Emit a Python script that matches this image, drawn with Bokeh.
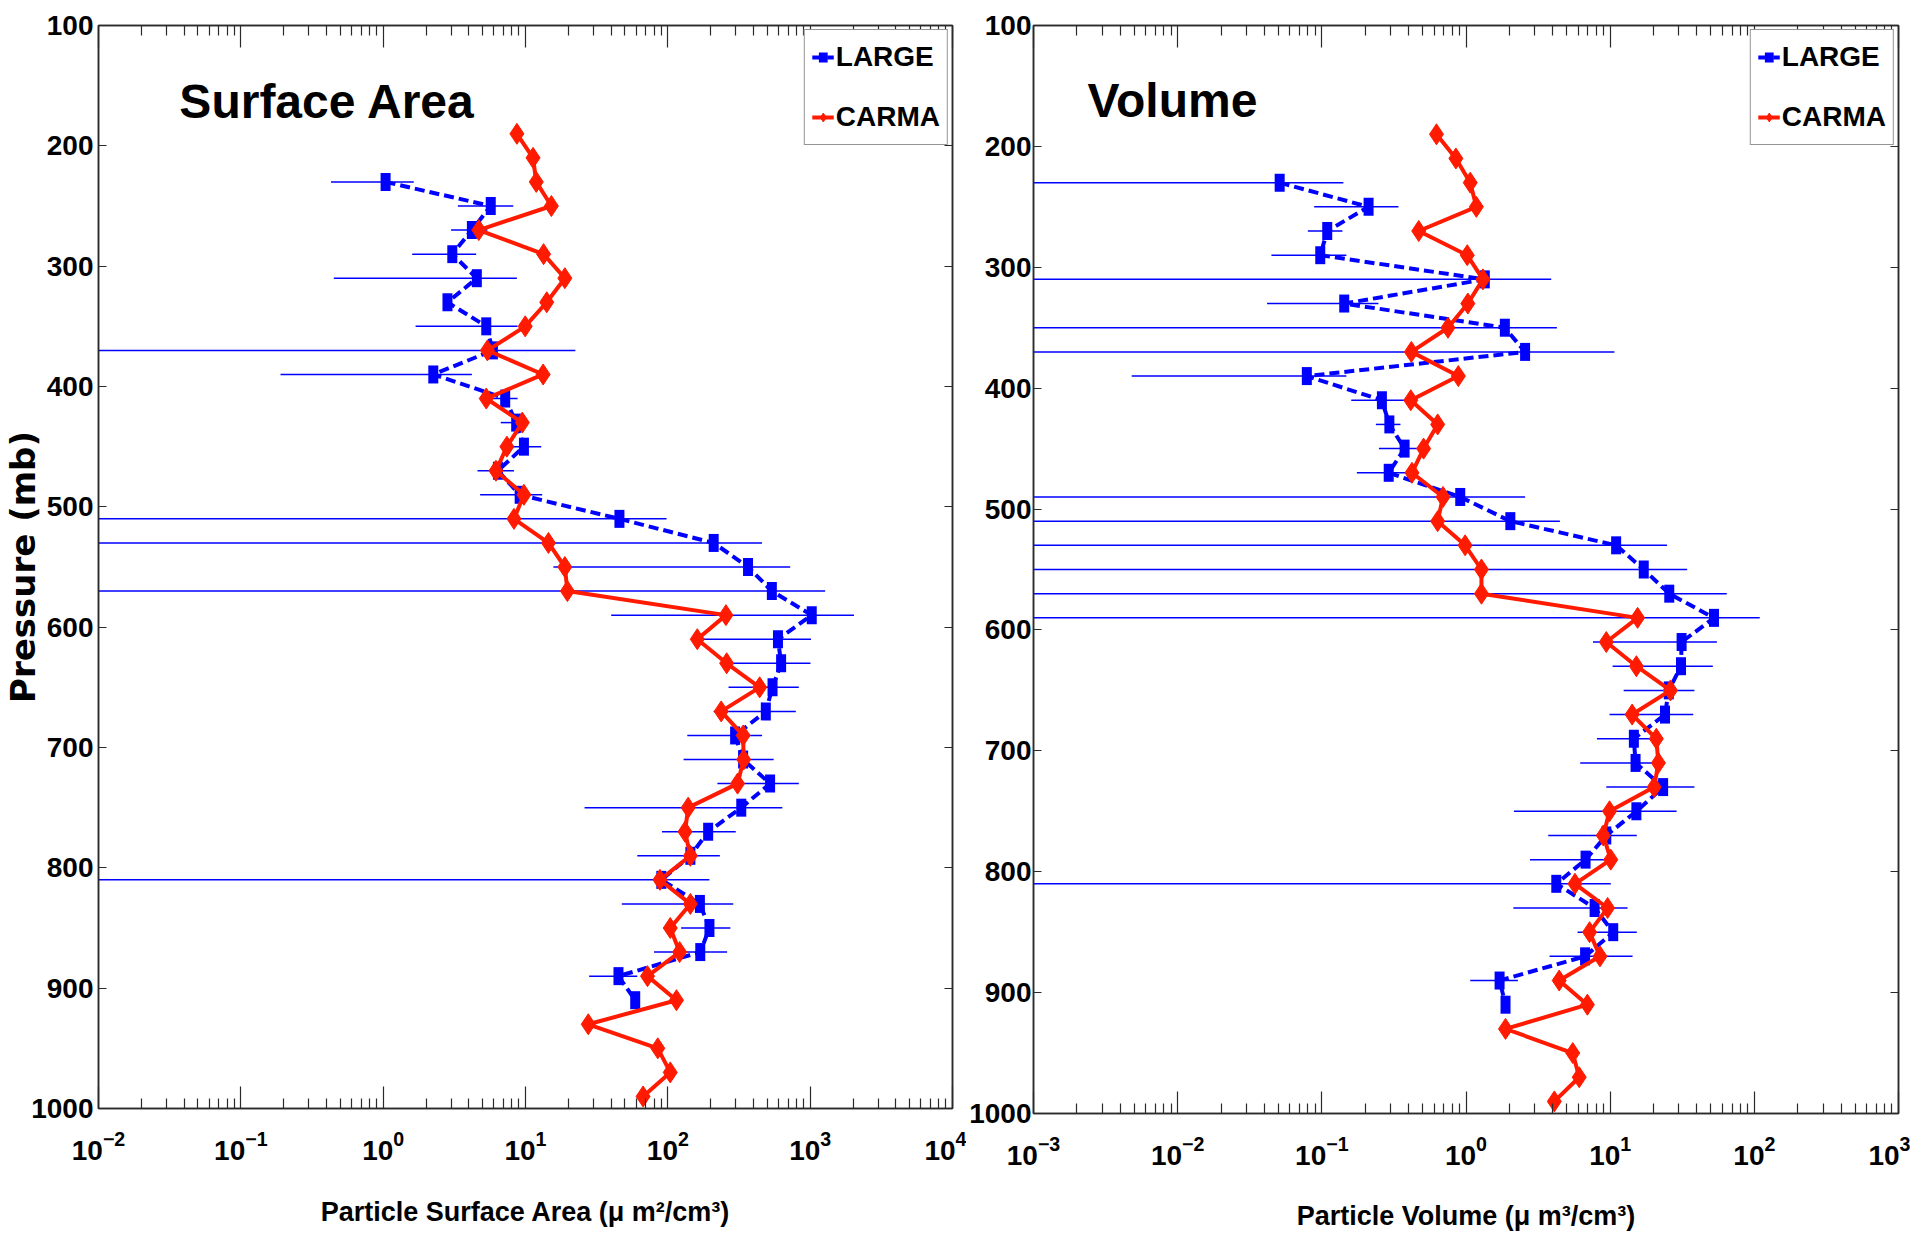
import math
from bokeh.plotting import figure
from bokeh.models import (Range1d, LogAxis, LinearAxis, FixedTicker, Label,
                          Legend, LegendItem, ColumnDataSource)
from bokeh.layouts import row
from bokeh.embed import file_html
from bokeh.resources import INLINE

NAN = float("nan")
OFF = 1e-4   # error bar runs past the left edge of the axes

# ---------------- data ----------------
pressure_large = [230, 250, 270, 290, 310, 330, 350, 370, 390, 410, 430, 450,
                  470, 490, 510, 530, 550, 570, 590, 610, 630, 650, 670, 690,
                  710, 730, 750, 770, 790, 810, 830, 850, 870, 890, 910]
pressure_carma = [190, 210, 230, 250, 270, 290, 310, 330, 350, 370, 390, 410,
                  430, 450, 470, 490, 510, 530, 550, 570, 590, 610, 630, 650,
                  670, 690, 710, 730, 750, 770, 790, 810, 830, 850, 870, 890,
                  910, 930, 950, 970, 990]

# Surface area (um^2/cm^3)
sa_large = [1.04, 5.7, 4.2, 3.06, 4.55, 2.83, 5.3, 5.9, 2.25, 7.2, 8.6, 9.75,
            6.4, 9.1, 45.7, 210, 366, 538, 1026, 594, 625, 544, 488, 297,
            338, 523, 328, 192, 144, 90, 168, 196, 169, 45, 59]
sa_large_lo = [0.43, 3.35, 3.0, 1.6, 0.45, NAN, 1.69, OFF, 0.19, 5.0, 6.7, 6.9,
               4.6, 4.8, OFF, OFF, 15.7, OFF, 40, 176, 237, 267, 210, 137,
               129, 223, 26, 91, 61, OFF, 47.5, 124, 80, 28, NAN]
sa_large_hi = [1.64, 8.2, 5.4, 4.5, 8.7, NAN, 8.8, 22.4, 4.2, 8.8, 10.3, 12.9,
               8.3, 13.1, 98, 459, 724, 1274, 2031, 1014, 1005, 832, 793, 459,
               554, 832, 637, 300, 232, 196, 288, 275, 261, 61, NAN]
sa_carma = [8.7, 11.3, 11.9, 15.2, 4.7, 13.4, 18.9, 14.1, 9.95, 5.4, 13.3, 5.3,
            9.5, 7.4, 6.2, 9.75, 8.3, 14.5, 18.9, 19.7, 256, 161, 259, 442,
            237, 338, 341, 309, 139, 132, 144, 88, 144, 104, 121, 72,
            115, 27.6, 85, 104, 67]

# Volume (um^3/cm^3)
vol_large = [0.051, 0.211, 0.109, 0.0975, 1.35, 0.143, 1.86, 2.57, 0.0787,
             0.261, 0.294, 0.375, 0.291, 0.912, 2.03, 11.0, 17.1, 25.7, 52.5,
             31.3, 31.0, 25.5, 24.0, 14.6, 15.0, 23.3, 15.2, 9.4, 6.75, 4.23,
             7.8, 10.5, 6.7, 1.71, 1.88]
vol_large_lo = [OFF, 0.0885, 0.080, 0.0447, OFF, 0.0417, OFF, OFF, 0.0048,
                0.16, 0.237, 0.249, 0.175, OFF, OFF, OFF, OFF, OFF, OFF,
                7.6, 10.4, 12.4, 9.9, 8.1, 6.2, 9.4, 2.15, 3.72, 2.78, OFF,
                2.13, 5.94, 3.8, 1.07, NAN]
vol_large_hi = [0.141, 0.34, 0.139, 0.148, 3.9, 0.247, 4.27, 10.7, 0.148,
                0.378, 0.351, 0.528, 0.435, 2.57, 4.48, 24.8, 34.2, 64.4, 109,
                55, 51.5, 38.4, 37.7, 21.6, 23.8, 38.4, 28.9, 15.3, 10.9, 10.1,
                13.2, 15.3, 14.3, 2.29, NAN]
vol_carma = [0.624, 0.851, 1.07, 1.18, 0.47, 1.02, 1.31, 1.03, 0.75, 0.418,
             0.885, 0.414, 0.636, 0.508, 0.422, 0.693, 0.636, 0.986, 1.28, 1.28,
             15.5, 9.4, 15.2, 26.2, 14.2, 20.9, 21.6, 20.2, 9.9, 8.96, 10.1,
             5.7, 9.6, 7.2, 8.5, 4.43, 6.95, 1.88, 5.5, 6.1, 4.1]

x_ticks_sa = [1e-2, 1e-1, 1e0, 1e1, 1e2, 1e3, 1e4]
x_ticks_vol = [1e-3, 1e-2, 1e-1, 1e0, 1e1, 1e2, 1e3]
y_ticks = [100, 200, 300, 400, 500, 600, 700, 800, 900, 1000]
series_names = ["LARGE", "CARMA"]

# ---------------- style ----------------
BLUE = "#0000ff"
RED = "#ff1a00"
INK = "#2a2a2a"
SANS = "Liberation Sans"


def minor_log(ticks):
    return [m * t for t in ticks[:-1] for m in range(2, 10)]


def style_axis(ax, labels=True, tick_in=8, minor_in=0):
    ax.axis_line_color = INK
    ax.axis_line_width = 1.5
    ax.major_tick_line_color = INK
    ax.major_tick_line_width = 1.2
    ax.major_tick_in = tick_in
    ax.major_tick_out = 0
    if minor_in:
        ax.minor_tick_line_color = INK
        ax.minor_tick_line_width = 1.2
        ax.minor_tick_in = minor_in
        ax.minor_tick_out = 0
    else:
        ax.minor_tick_line_color = None
    if labels:
        ax.major_label_text_font = SANS
        ax.major_label_text_font_size = "28px"
        ax.major_label_text_font_style = "bold"
        ax.major_label_text_color = "black"
    else:
        ax.major_label_text_font_size = "0px"
        ax.major_label_text_color = None


def panel(xt, large, lo, hi, carma, title, title_x, title_y, xlabel, ylabel,
          fw, fh, bl, br, bt, bb, ylab_standoff, xlab_standoff):
    p = figure(frame_width=fw, frame_height=fh,
               min_border_left=bl, min_border_right=br,
               min_border_top=bt, min_border_bottom=bb,
               x_axis_type="log", x_range=Range1d(xt[0], xt[-1]),
               y_range=Range1d(1000, 100),
               output_backend="svg", toolbar_location=None,
               background_fill_color="white", border_fill_color="white")
    p.grid.visible = False
    p.outline_line_color = INK
    p.outline_line_width = 1.5

    xticker = FixedTicker(ticks=xt, minor_ticks=minor_log(xt))
    yticker = FixedTicker(ticks=y_ticks)

    xa = p.xaxis[0]
    xa.ticker = xticker
    style_axis(xa, labels=True, tick_in=22, minor_in=10)
    xa.major_label_standoff = 22
    xa.axis_label = xlabel
    xa.axis_label_text_font = SANS
    xa.axis_label_text_font_size = "27px"
    xa.axis_label_text_font_style = "bold"
    xa.axis_label_text_color = "black"
    xa.axis_label_standoff = xlab_standoff

    ya = p.yaxis[0]
    ya.ticker = yticker
    style_axis(ya, labels=True, tick_in=8)
    ya.major_label_standoff = ylab_standoff
    if ylabel:
        ya.axis_label = ylabel
        ya.axis_label_text_font = "DejaVu Sans"
        ya.axis_label_text_font_size = "34px"
        ya.axis_label_text_font_style = "bold"
        ya.axis_label_text_color = "black"
        ya.axis_label_standoff = -15

    top = LogAxis(ticker=xticker)
    style_axis(top, labels=False, tick_in=22, minor_in=10)
    p.add_layout(top, "above")
    right = LinearAxis(ticker=yticker)
    style_axis(right, labels=False, tick_in=8)
    p.add_layout(right, "right")

    src_l = ColumnDataSource(dict(p=pressure_large, v=large, lo=lo, hi=hi))
    src_c = ColumnDataSource(dict(p=pressure_carma, v=carma))

    p.segment(x0="lo", y0="p", x1="hi", y1="p", source=src_l,
              line_color=BLUE, line_width=1.5)
    bl_line = p.line("v", "p", source=src_l, line_color=BLUE, line_width=4,
                     line_dash="10 5")
    bl_mark = p.scatter("v", "p", source=src_l, marker="dash", size=18,
                        angle=math.pi / 2, line_color=BLUE, line_width=10)
    rd_line = p.line("v", "p", source=src_c, line_color=RED, line_width=4)
    rd_mark = p.scatter("v", "p", source=src_c, marker="diamond", size=21,
                        fill_color=RED, line_color=RED, line_width=1)

    legend = Legend(items=[LegendItem(label=series_names[0], renderers=[bl_line, bl_mark]),
                           LegendItem(label=series_names[1], renderers=[rd_line, rd_mark])],
                    location="top_right")
    legend.label_text_font = SANS
    legend.label_text_font_size = "28px"
    legend.label_text_font_style = "bold"
    legend.label_text_color = "black"
    legend.glyph_width = 22
    legend.glyph_height = 40
    legend.label_standoff = 2
    legend.padding = 7
    legend.spacing = 20
    legend.margin = 4
    legend.border_line_color = INK
    legend.border_line_width = 1.5
    legend.background_fill_color = "white"
    legend.background_fill_alpha = 1
    p.add_layout(legend)

    p.add_layout(Label(x=title_x, y=title_y, text=title,
                       text_font=SANS, text_font_style="bold",
                       text_font_size="48px", text_color="black",
                       text_align="left", text_baseline="alphabetic"))
    return p


left = panel(x_ticks_sa, sa_large, sa_large_lo, sa_large_hi, sa_carma,
             "Surface Area", 0.037, 163,
             "Particle Surface Area (\u03bc m\u00b2/cm\u00b3)", "Pressure (mb)",
             fw=854, fh=1083, bl=92, br=14, bt=23, bb=128,
             ylab_standoff=5, xlab_standoff=34)
right = panel(x_ticks_vol, vol_large, vol_large_lo, vol_large_hi, vol_carma,
              "Volume", 0.00237, 162,
              "Particle Volume (\u03bc m\u00b3/cm\u00b3)", None,
              fw=865, fh=1088, bl=64, br=12, bt=25, bb=121,
              ylab_standoff=2, xlab_standoff=33)

layout = row(left, right, spacing=0)
open("out.html", "w").write(file_html(layout, INLINE))
